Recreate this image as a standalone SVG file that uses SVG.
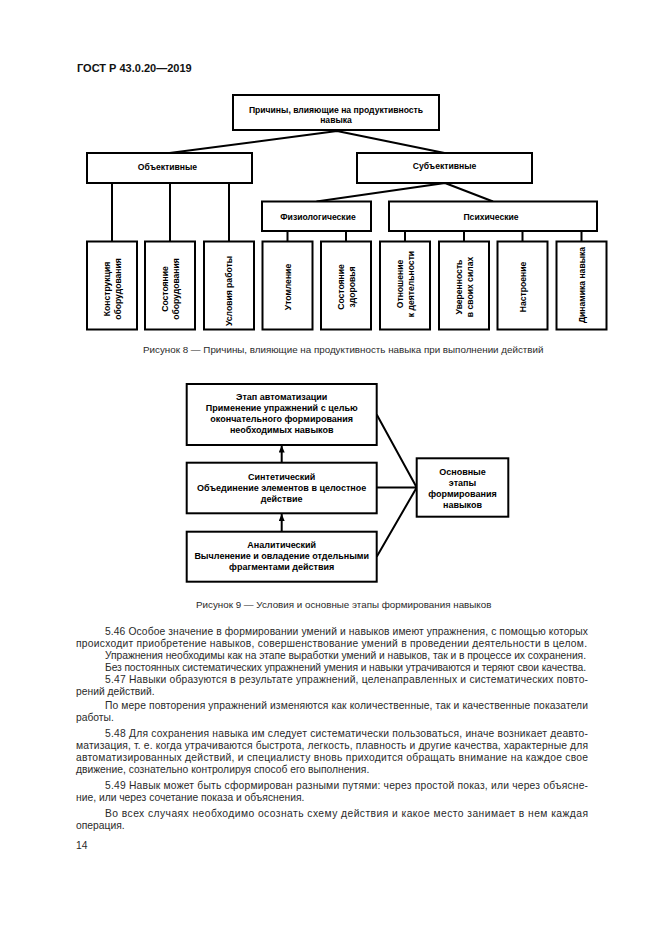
<svg xmlns="http://www.w3.org/2000/svg" width="661" height="935" viewBox="0 0 661 935">
<style>
.bg{fill:#ffffff}
.box{fill:#ffffff;stroke:#000;stroke-width:2}
.ln{stroke:#000;stroke-width:2;fill:none}
.t{font-family:"Liberation Sans",Arial,sans-serif;font-weight:bold;font-size:8.6px;fill:#000;text-anchor:middle}
.t9{font-family:"Liberation Sans",Arial,sans-serif;font-weight:bold;font-size:9px;fill:#000;text-anchor:middle}
.body{font-family:"Liberation Sans",Arial,sans-serif;font-size:10.3px;fill:#2a2a2a}
.cap{font-family:"Liberation Sans",Arial,sans-serif;font-size:9.8px;fill:#2a2a2a}
.hdr{font-family:"Liberation Sans",Arial,sans-serif;font-weight:bold;font-size:11px;fill:#111}
</style>
<defs>
<marker id="arr" markerWidth="7" markerHeight="6" refX="7" refY="3" orient="auto" markerUnits="userSpaceOnUse" viewBox="0 0 7 6">
<path d="M0,0 L7,3 L0,6 Z" fill="#000"/>
</marker>
</defs>
<rect class="bg" x="0" y="0" width="661" height="935"/>
<text class="hdr" x="77" y="72">ГОСТ Р 43.0.20—2019</text>

<g id="connectors">
<!-- Figure 8 -->
<path class="ln" d="M337,131 L169.5,153 M337,131 L444.5,153"/>
<path class="ln" d="M445,183 L316.5,201.5 M445,183 L493,201.5"/>
<path class="ln" d="M112,183 V241.5 M170,183 V241.5 M229,183 V241.5"/>
<path class="ln" d="M287.5,231 V241.5 M346,231 V241.5"/>
<path class="ln" d="M405,231 V241.5 M464,231 V241.5 M522.5,231 V241.5 M581.5,231 V241.5"/>
<!-- Figure 9 -->
<path class="ln" d="M281.7,462.7 V445.5" marker-end="url(#arr)"/>
<path class="ln" d="M281.7,531.7 V514" marker-end="url(#arr)"/>
<path class="ln" d="M376.7,414.5 L416.7,487.5 M376.7,487.5 H416.7 M376.7,556.7 L416.7,487.5"/>
</g>

<g id="n-top">
<rect class="box" x="233" y="95" width="206" height="35"/>
<text class="t" x="336" y="113">Причины, влияющие на продуктивность</text>
<text class="t" x="336" y="123">навыка</text>
</g>
<g id="n-obj">
<rect class="box" x="87" y="153" width="165" height="30"/>
<text class="t" x="167.5" y="170">Объективные</text>
</g>
<g id="n-subj">
<rect class="box" x="357" y="153" width="175" height="30"/>
<text class="t" x="444.5" y="169">Субъективные</text>
</g>
<g id="n-phys">
<rect class="box" x="262" y="201.5" width="109" height="29.5"/>
<text class="t" x="318" y="219.5">Физиологические</text>
</g>
<g id="n-psych">
<rect class="box" x="389" y="201.5" width="208" height="29.5"/>
<text class="t" x="491" y="219.5">Психические</text>
</g>

<g id="n-b1">
<rect class="box" x="87" y="241.5" width="50" height="88"/>
<g transform="translate(112,289) rotate(-90)"><text class="t" x="0" y="-2.5">Конструкция</text><text class="t" x="0" y="9">оборудования</text></g>
</g>
<g id="n-b2">
<rect class="box" x="145" y="241.5" width="50" height="88"/>
<g transform="translate(170,289) rotate(-90)"><text class="t" x="0" y="-2.5">Состояние</text><text class="t" x="0" y="9">оборудования</text></g>
</g>
<g id="n-b3">
<rect class="box" x="204" y="241.5" width="50" height="88"/>
<g transform="translate(229,291) rotate(-90)"><text class="t" x="0" y="3">Условия работы</text></g>
</g>
<g id="n-b4">
<rect class="box" x="262.5" y="241.5" width="50" height="88"/>
<g transform="translate(287.5,287) rotate(-90)"><text class="t" x="0" y="3">Утомление</text></g>
</g>
<g id="n-b5">
<rect class="box" x="321" y="241.5" width="50" height="88"/>
<g transform="translate(346,287) rotate(-90)"><text class="t" x="0" y="-2.5">Состояние</text><text class="t" x="0" y="9">здоровья</text></g>
</g>
<g id="n-b6">
<rect class="box" x="380" y="241.5" width="50" height="88"/>
<g transform="translate(405,284) rotate(-90)"><text class="t" x="0" y="-2.5">Отношение</text><text class="t" x="0" y="9">к деятельности</text></g>
</g>
<g id="n-b7">
<rect class="box" x="439" y="241.5" width="50" height="88"/>
<g transform="translate(464,287) rotate(-90)"><text class="t" x="0" y="-2.5">Уверенность</text><text class="t" x="0" y="9">в своих силах</text></g>
</g>
<g id="n-b8">
<rect class="box" x="497.5" y="241.5" width="50" height="88"/>
<g transform="translate(522.5,287) rotate(-90)"><text class="t" x="0" y="3">Настроение</text></g>
</g>
<g id="n-b9">
<rect class="box" x="556.5" y="241.5" width="50" height="88"/>
<g transform="translate(581.5,285) rotate(-90)"><text class="t" x="0" y="3">Динамика навыка</text></g>
</g>

<text class="cap" x="143" y="353">Рисунок 8 — Причины, влияющие на продуктивность навыка при выполнении действий</text>

<g id="f9-auto">
<rect class="box" x="186.7" y="384" width="190" height="61"/>
<text class="t9" x="281.7" y="400">Этап автоматизации</text>
<text class="t9" x="281.7" y="411">Применение упражнений с целью</text>
<text class="t9" x="281.7" y="422">окончательного формирования</text>
<text class="t9" x="281.7" y="433">необходимых навыков</text>
</g>
<g id="f9-synth">
<rect class="box" x="186.7" y="462.7" width="190" height="50.6"/>
<text class="t9" x="281.7" y="480">Синтетический</text>
<text class="t9" x="281.7" y="491">Объединение элементов в целостное</text>
<text class="t9" x="281.7" y="502">действие</text>
</g>
<g id="f9-anal">
<rect class="box" x="186.7" y="531.7" width="190" height="50"/>
<text class="t9" x="281.7" y="548">Аналитический</text>
<text class="t9" x="281.7" y="559">Вычленение и овладение отдельными</text>
<text class="t9" x="281.7" y="570">фрагментами действия</text>
</g>
<g id="f9-main">
<rect class="box" x="416.7" y="458.3" width="91.6" height="58.4"/>
<text class="t9" x="462.5" y="475">Основные</text>
<text class="t9" x="462.5" y="486">этапы</text>
<text class="t9" x="462.5" y="497">формирования</text>
<text class="t9" x="462.5" y="508">навыков</text>
</g>

<text class="cap" x="196" y="608">Рисунок 9 — Условия и основные этапы формирования навыков</text>

<g id="body">
<text class="body" x="105" y="635" textLength="483" lengthAdjust="spacing">5.46  Особое значение в формировании умений и навыков имеют упражнения, с помощью которых</text>
<text class="body" x="76" y="647" textLength="511" lengthAdjust="spacing">происходит приобретение навыков, совершенствование умений в проведении деятельности в целом.</text>
<text class="body" x="105" y="659" textLength="481" lengthAdjust="spacing">Упражнения необходимы как на этапе выработки умений и навыков, так и в процессе их сохранения.</text>
<text class="body" x="105" y="671" textLength="481" lengthAdjust="spacing">Без постоянных систематических упражнений умения и навыки утрачиваются и теряют свои качества.</text>
<text class="body" x="105" y="683" textLength="483" lengthAdjust="spacing">5.47  Навыки образуются в результате упражнений, целенаправленных и систематических повто-</text>
<text class="body" x="76" y="694.5">рений действий.</text>
<text class="body" x="105" y="709" textLength="483" lengthAdjust="spacing">По мере повторения упражнений изменяются как количественные, так и качественные показатели</text>
<text class="body" x="76" y="720.5">работы.</text>
<text class="body" x="105" y="737" textLength="483" lengthAdjust="spacing">5.48  Для сохранения навыка им следует систематически пользоваться, иначе возникает деавто-</text>
<text class="body" x="76" y="749" textLength="512" lengthAdjust="spacing">матизация, т. е. когда утрачиваются быстрота, легкость, плавность и другие качества, характерные для</text>
<text class="body" x="76" y="761" textLength="512" lengthAdjust="spacing">автоматизированных действий, и специалисту вновь приходится обращать внимание на каждое свое</text>
<text class="body" x="76" y="773">движение, сознательно контролируя способ его выполнения.</text>
<text class="body" x="105" y="789" textLength="483" lengthAdjust="spacing">5.49  Навык может быть сформирован разными путями: через простой показ, или через объясне-</text>
<text class="body" x="76" y="801">ние, или через сочетание показа и объяснения.</text>
<text class="body" x="105" y="816.5" textLength="483" lengthAdjust="spacing">Во всех случаях необходимо осознать схему действия и какое место занимает в нем каждая</text>
<text class="body" x="76" y="828.5">операция.</text>
<text class="body" x="76" y="849">14</text>
</g>
</svg>
